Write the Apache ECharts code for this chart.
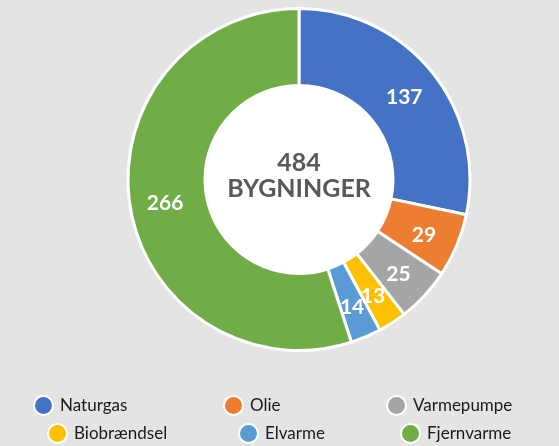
<!DOCTYPE html>
<html>
<head>
<meta charset="utf-8">
<script src="https://cdn.jsdelivr.net/npm/echarts@6/dist/echarts.min.js"></script>
<style>
  html, body { margin: 0; padding: 0; background: #e3e4e3; }
  #chart { width: 559px; height: 446px; }
</style>
</head>
<body>
<div id="chart"></div>
<script>
// opvarmningsform pr. bygning
var categories = ["Naturgas", "Olie", "Varmepumpe", "Biobrændsel", "Elvarme", "Fjernvarme"];
var values = [137, 29, 25, 13, 14, 266];
var colors = ["#4472c4", "#ed7d31", "#a5a5a5", "#ffc000", "#5b9bd5", "#70ad47"];
var totalLabel = "484";
var centerText = "BYGNINGER";

// legend placement (left, top) for each item
var legendPos = [[33, 395], [223, 395], [386, 395], [47, 423], [238, 423], [400, 423]];

var font = "Lato, 'Open Sans', sans-serif";

var legends = categories.map(function (name, i) {
  return {
    data: [name],
    left: legendPos[i][0],
    top: legendPos[i][1],
    padding: 0,
    icon: "circle",
    itemWidth: 19,
    itemHeight: 19,
    selectedMode: false,
    textStyle: {
      fontFamily: font,
      fontSize: 17,
      color: "#1a1a1a",
      padding: [0, 0, 0, 2]
    }
  };
});

var myChart = echarts.init(document.getElementById("chart"));
myChart.setOption({
  backgroundColor: "#e3e4e3",
  animation: false,
  color: colors,
  legend: legends,
  series: [
    {
      type: "pie",
      silent: true,
      center: [299, 179.5],
      radius: [0, 94],
      itemStyle: { color: "#ffffff" },
      label: {
        position: "center",
        formatter: totalLabel + "\n" + centerText,
        fontFamily: font,
        fontSize: 25,
        fontWeight: "bold",
        color: "#595959",
        lineHeight: 26,
        offset: [0, -4]
      },
      labelLine: { show: false },
      data: [{ value: 1, name: "_center" }]
    },
    {
      type: "pie",
      center: [299, 179.5],
      radius: [94, 171],
      startAngle: 90,
      clockwise: true,
      itemStyle: { borderColor: "#ffffff", borderWidth: 3 },
      label: {
        position: "inside",
        formatter: "{c}",
        fontFamily: font,
        fontSize: 21,
        fontWeight: "bold",
        color: "#ffffff",
        offset: [0, 3]
      },
      labelLayout: { hideOverlap: false },
      data: categories.map(function (name, i) {
        return { name: name, value: values[i] };
      })
    }
  ]
});
</script>
</body>
</html>
